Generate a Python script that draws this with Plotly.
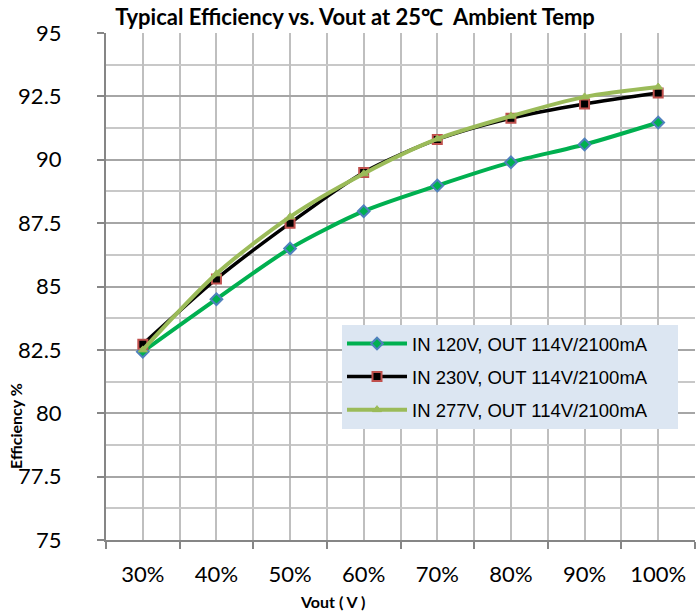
import plotly.graph_objects as go

categories = ["30%", "40%", "50%", "60%", "70%", "80%", "90%", "100%"]
eff_120 = [82.43, 84.5, 86.5, 87.97, 88.98, 89.9, 90.6, 91.47]
eff_230 = [82.72, 85.3, 87.5, 89.5, 90.8, 91.64, 92.2, 92.63]
eff_277 = [82.5, 85.5, 87.75, 89.45, 90.82, 91.72, 92.48, 92.87]
names = ["IN 120V, OUT 114V/2100mA", "IN 230V, OUT 114V/2100mA", "IN 277V, OUT 114V/2100mA"]
y_ticks = [75, 77.5, 80, 82.5, 85, 87.5, 90, 92.5, 95]

xpos = list(range(len(categories)))
pad = "\u00a0" * 5

fig = go.Figure()
fig.add_trace(go.Scatter(
    x=xpos, y=eff_120, name=names[0] + pad, mode="lines+markers", legendgroup="a",
    line=dict(color="#00B050", width=4, shape="spline", smoothing=0.8),
    marker=dict(symbol="diamond", size=9, color="#00B050", line=dict(color="#4F81BD", width=2)),
))
fig.add_trace(go.Scatter(
    x=xpos, y=eff_230, name=names[1] + pad, mode="lines+markers", legendgroup="b",
    line=dict(color="#000000", width=3.5, shape="spline", smoothing=0.8),
    marker=dict(symbol="square", size=9, color="#000000", line=dict(color="#C0504D", width=2)),
))
fig.add_trace(go.Scatter(
    x=xpos, y=eff_277, name=names[2] + pad, mode="lines+markers", legendgroup="c",
    line=dict(color="#9BBB59", width=4, shape="spline", smoothing=0.8),
    marker=dict(symbol="triangle-up", size=8, color="#9BBB59", line=dict(color="#9BBB59", width=1)),
))

fig.update_layout(
    width=696, height=611,
    margin=dict(l=106, r=1, t=33, b=71, autoexpand=False),
    paper_bgcolor="white", plot_bgcolor="white",
    title=dict(text="<b>Typical Efficiency vs. Vout at 25℃  Ambient Temp</b>",
               x=355 / 696, xanchor="center", xref="container",
               y=1 - 17 / 611, yanchor="middle", yref="container",
               font=dict(family="Lato, Open Sans", size=22, color="#000000")),
    showlegend=True,
    legend=dict(x=(342 - 106) / 589, y=(540 - 325) / 507, xanchor="left", yanchor="top",
                bgcolor="#DCE6F2", borderwidth=0,
                font=dict(family="Liberation Sans, Arial", size=18.5, color="#000000"),
                tracegroupgap=6, itemwidth=60),
    font=dict(family="Lato", color="#000000"),
    annotations=[
        dict(text="<b>Vout ( V )</b>", xref="paper", yref="paper",
             x=(332 - 106) / 589, y=-(601 - 540) / 507, xanchor="center", yanchor="middle",
             showarrow=False, font=dict(family="Lato", size=16, color="#000000")),
        dict(text="<b>Efficiency %</b>", xref="paper", yref="paper", textangle=-90,
             x=-(106 - 15) / 589, y=(540 - 426) / 507, xanchor="center", yanchor="middle",
             showarrow=False, font=dict(family="Lato", size=16, color="#000000")),
    ],
)

fig.update_xaxes(
    range=[-0.5, 7.5], tickvals=xpos, ticktext=categories, automargin=False,
    tickfont=dict(family="Lato", size=22),
    showgrid=True, gridcolor="#BFBFBF", gridwidth=1.5,
    ticks="", showline=True, linecolor="#868686", linewidth=2,
    ticklabelstandoff=14,
    minor=dict(tickvals=[i - 0.5 for i in range(len(categories) + 1)],
               ticks="outside", ticklen=7, tickwidth=2, tickcolor="#868686",
               showgrid=True, gridcolor="#BFBFBF", gridwidth=1.5),
    zeroline=False,
)
fig.update_yaxes(
    range=[75, 95], tickvals=y_ticks, ticktext=[f"{v:g}" for v in y_ticks], automargin=False,
    tickfont=dict(family="Lato", size=22),
    showgrid=True, gridcolor="#A6A6A6", gridwidth=1.5,
    ticks="outside", ticklen=7, tickwidth=2, tickcolor="#868686",
    ticklabelstandoff=31,
    showline=True, linecolor="#868686", linewidth=2,
    minor=dict(dtick=1.25, tick0=75, showgrid=True, gridcolor="#C8C8C8", gridwidth=1.5, ticks=""),
    zeroline=False,
)

fig.write_html("out.html", config={"displayModeBar": False},
               post_script="document.body.style.margin='0';")
